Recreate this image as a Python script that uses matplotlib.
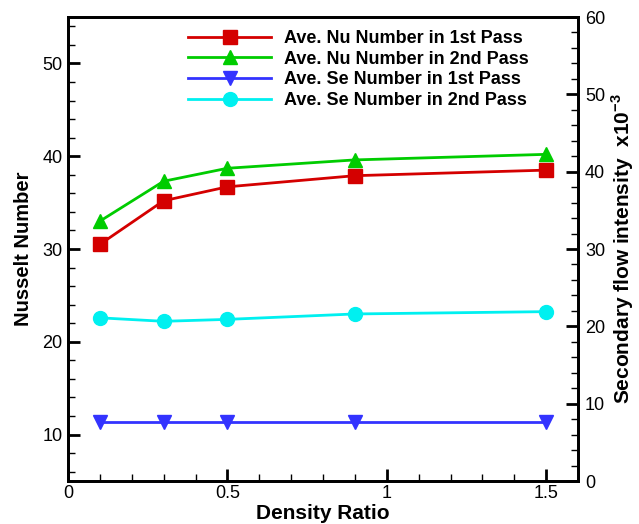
import matplotlib
matplotlib.use("Agg")
import matplotlib.pyplot as plt
from matplotlib.ticker import MultipleLocator, FormatStrFormatter

plt.rcParams['font.family'] = ['Liberation Sans', 'DejaVu Sans']
plt.rcParams['mathtext.fontset'] = 'custom'
plt.rcParams['mathtext.rm'] = 'Liberation Sans'
plt.rcParams['mathtext.bf'] = 'Liberation Sans:bold'

# data
density_ratio = [0.1, 0.3, 0.5, 0.9, 1.5]
nu_1st = [30.5, 35.2, 36.7, 37.9, 38.5]
nu_2nd = [33.0, 37.3, 38.7, 39.6, 40.2]
se_1st = [7.6, 7.6, 7.6, 7.6, 7.6]
se_2nd = [21.1, 20.65, 20.9, 21.6, 21.9]

labels = ["Ave. Nu Number in 1st Pass", "Ave. Nu Number in 2nd Pass",
          "Ave. Se Number in 1st Pass", "Ave. Se Number in 2nd Pass"]
colors = ["#d40000", "#00cc00", "#3333ff", "#00f0f0"]

fig = plt.figure(figsize=(6.39, 5.24), dpi=100)
ax = fig.add_axes([68/639, 1 - 481/524, (578-68)/639, (481-17)/524])
ax2 = ax.twinx()

l1, = ax.plot(density_ratio, nu_1st, '-s', color=colors[0], lw=2, ms=9.5, label=labels[0])
l2, = ax.plot(density_ratio, nu_2nd, '-^', color=colors[1], lw=2, ms=10, label=labels[1])
l3, = ax2.plot(density_ratio, se_1st, '-v', color=colors[2], lw=2, ms=10, label=labels[2])
l4, = ax2.plot(density_ratio, se_2nd, '-o', color=colors[3], lw=2, ms=10, label=labels[3])

ax.set_xlim(0, 1.6)
ax.set_ylim(5, 55)
ax2.set_ylim(0, 60)

ax.xaxis.set_major_locator(MultipleLocator(0.5))
ax.xaxis.set_minor_locator(MultipleLocator(0.1))
ax.xaxis.set_major_formatter(FormatStrFormatter('%g'))
ax.yaxis.set_major_locator(MultipleLocator(10))
ax.yaxis.set_minor_locator(MultipleLocator(2))
ax2.yaxis.set_major_locator(MultipleLocator(10))
ax2.yaxis.set_minor_locator(MultipleLocator(2))

for a in (ax, ax2):
    for s in a.spines.values():
        s.set_linewidth(2)
    a.tick_params(which='major', direction='in', length=8.5, width=2, labelsize=13)
    a.tick_params(which='minor', direction='in', length=5, width=1)
ax.tick_params(axis='y', which='both', right=False, pad=4)
ax.tick_params(axis='x', which='both', top=False, pad=3)
ax2.tick_params(axis='y', which='both', left=False, pad=5)

ax.set_xlabel("Density Ratio", fontsize=15, fontweight='bold', labelpad=1)
ax.set_ylabel("Nusselt Number", fontsize=14.5, fontweight='bold', labelpad=7)
ax2.set_ylabel(r"Secondary flow intensity  x10$^{\mathbf{-3}}$", fontsize=15,
               fontweight='bold', labelpad=3)

fig.legend(handles=[l1, l2, l3, l4], loc='upper left',
           bbox_to_anchor=(188/639, 1 - 30/524), frameon=False,
           prop={'size': 13, 'weight': 'bold'}, handlelength=4.6,
           handletextpad=0.7, labelspacing=0.2, borderpad=0, borderaxespad=0)

fig.savefig("out.png", dpi=100)
